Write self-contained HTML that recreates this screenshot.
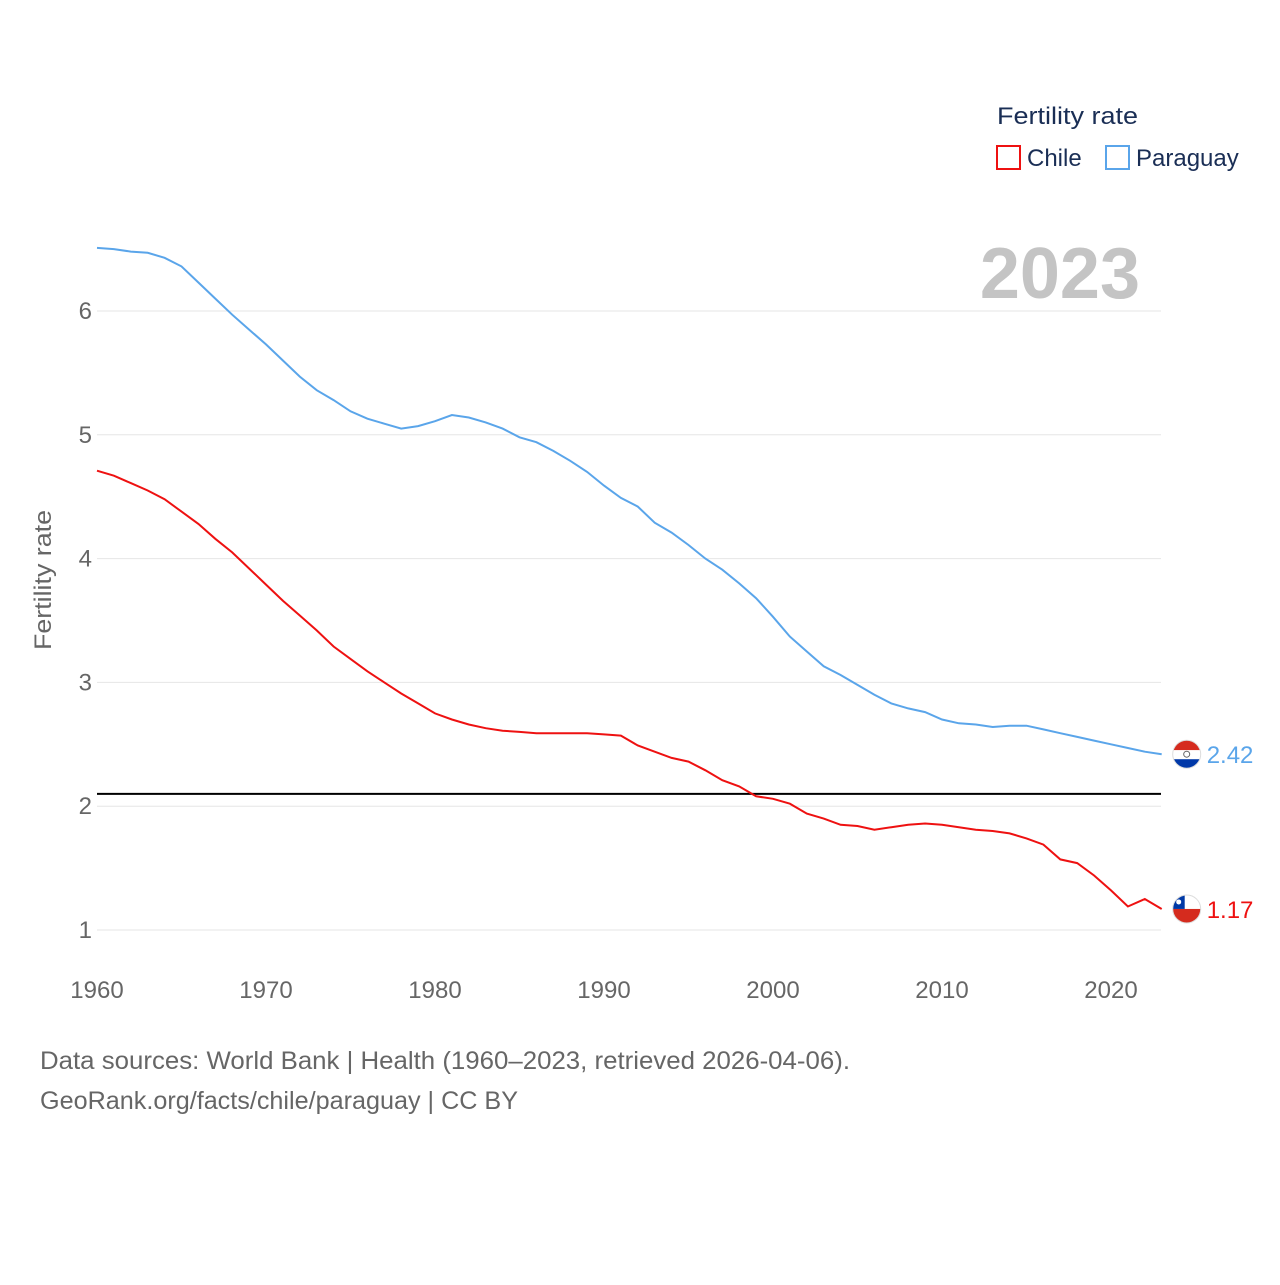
<!DOCTYPE html>
<html><head><meta charset="utf-8"><style>
body{margin:0;background:#fff;font-family:"Liberation Sans",sans-serif}
svg text{font-family:"Liberation Sans",sans-serif}
</style></head><body>
<svg width="1280" height="1280" viewBox="0 0 1280 1280">
<g id="grid"></g>
<g id="yt" font-size="24" fill="#666" text-anchor="end"></g>
<g id="xt" font-size="24" fill="#666" text-anchor="middle"></g>
<text transform="translate(51,580) rotate(-90)" text-anchor="middle" font-size="24" fill="#666" textLength="140" lengthAdjust="spacingAndGlyphs">Fertility rate</text>
<text x="1140" y="298" text-anchor="end" font-size="72" font-weight="bold" fill="#c4c4c4">2023</text>
<g>
<text x="997" y="124" font-size="24" fill="#1a2e55" textLength="141" lengthAdjust="spacingAndGlyphs">Fertility rate</text>
<rect x="997" y="146" width="23" height="23" fill="none" stroke="#ee1111" stroke-width="2"/>
<text x="1027" y="166" font-size="24" fill="#1a2e55">Chile</text>
<rect x="1106" y="146" width="23" height="23" fill="none" stroke="#5aa5ea" stroke-width="2"/>
<text x="1136" y="166" font-size="24" fill="#1a2e55">Paraguay</text>
</g>
<line id="ref" stroke="#000" stroke-width="2"/>
<path id="pry" fill="none" stroke="#5aa5ea" stroke-width="2"/>
<path id="chl" fill="none" stroke="#ee1111" stroke-width="2"/>
<g id="ends"></g>
<text x="40" y="1069" font-size="25" fill="#666" textLength="810" lengthAdjust="spacingAndGlyphs">Data sources: World Bank | Health (1960–2023, retrieved 2026-04-06).</text>
<text x="40" y="1109" font-size="25" fill="#666" textLength="478" lengthAdjust="spacingAndGlyphs">GeoRank.org/facts/chile/paraguay | CC BY</text>
</svg>
<script>
const years=[];for(let y=1960;y<=2023;y++)years.push(y);
const paraguay=[6.51,6.50,6.48,6.47,6.43,6.36,6.23,6.10,5.97,5.85,5.73,5.60,5.47,5.36,5.28,5.19,5.13,5.09,5.05,5.07,5.11,5.16,5.14,5.10,5.05,4.98,4.94,4.87,4.79,4.70,4.59,4.49,4.42,4.29,4.21,4.11,4.00,3.91,3.80,3.68,3.53,3.37,3.25,3.13,3.06,2.98,2.90,2.83,2.79,2.76,2.70,2.67,2.66,2.64,2.65,2.65,2.62,2.59,2.56,2.53,2.50,2.47,2.44,2.42];
const chile=[4.71,4.67,4.61,4.55,4.48,4.38,4.28,4.16,4.05,3.92,3.79,3.66,3.54,3.42,3.29,3.19,3.09,3.00,2.91,2.83,2.75,2.70,2.66,2.63,2.61,2.60,2.59,2.59,2.59,2.59,2.58,2.57,2.49,2.44,2.39,2.36,2.29,2.21,2.16,2.08,2.06,2.02,1.94,1.90,1.85,1.84,1.81,1.83,1.85,1.86,1.85,1.83,1.81,1.80,1.78,1.74,1.69,1.57,1.54,1.44,1.32,1.19,1.25,1.17];
const yTicks=[1,2,3,4,5,6];
const xTicks=[1960,1970,1980,1990,2000,2010,2020];
const replacement=2.1;
const X=v=>97+(v-1960)*(1014/60);
const Y=v=>930-(v-1)*123.8;
const ns="http://www.w3.org/2000/svg";
const mk=(t,a,p)=>{const e=document.createElementNS(ns,t);for(const k in a)e.setAttribute(k,a[k]);p.appendChild(e);return e;};
const grid=document.getElementById('grid'),yt=document.getElementById('yt'),xt=document.getElementById('xt');
yTicks.forEach(v=>{
 const l=mk('line',{x1:97,x2:1161,y1:Y(v),y2:Y(v),stroke:'#e6e6e6','stroke-width':1},grid);
 
 
 const t=mk('text',{x:92,y:Y(v)+8},yt);t.textContent=v;
 
 
});
xTicks.forEach(v=>{
 const t=mk('text',{x:X(v),y:998},xt);t.textContent=v;
 
 
});
const r=document.getElementById('ref');
r.setAttribute('x1',97);r.setAttribute('x2',1161);r.setAttribute('y1',Y(replacement));r.setAttribute('y2',Y(replacement));
const path=arr=>arr.map((v,i)=>(i?'L':'M')+X(years[i]).toFixed(1)+','+Y(v).toFixed(1)).join('');
document.getElementById('pry').setAttribute('d',path(paraguay));
document.getElementById('chl').setAttribute('d',path(chile));
const ends=document.getElementById('ends');
function endMark(arr,col,name,flag){
 const v=arr[arr.length-1],cx=X(years[years.length-1])+25,cy=Y(v);
 const g=mk('g',{},ends);
 
 
 mk('clipPath',{id:'c'+name},g).appendChild(document.createElementNS(ns,'circle'));
 const c=g.querySelector('clipPath circle');c.setAttribute('cx',cx);c.setAttribute('cy',cy);c.setAttribute('r',14);
 const f=mk('g',{'clip-path':'url(#c'+name+')'},g);
 if(flag==='py'){
  mk('rect',{x:cx-14,y:cy-14,width:28,height:10,fill:'#d52b1e'},f);
  mk('rect',{x:cx-14,y:cy-4,width:28,height:9,fill:'#fff'},f);
  mk('rect',{x:cx-14,y:cy+5,width:28,height:10,fill:'#0038a8'},f);
  mk('circle',{cx:cx,cy:cy,r:3,fill:'none',stroke:'#666','stroke-width':1},f);
 }else{
  mk('rect',{x:cx-14,y:cy-14,width:28,height:14,fill:'#fff'},f);
  mk('rect',{x:cx-14,y:cy,width:28,height:14,fill:'#d52b1e'},f);
  mk('rect',{x:cx-14,y:cy-14,width:12,height:14,fill:'#0039a6'},f);
  mk('circle',{cx:cx-8,cy:cy-7,r:2.5,fill:'#fff'},f);
 }
 mk('circle',{cx:cx,cy:cy,r:14,fill:'none',stroke:'#ddd','stroke-width':1},g);
 const t=mk('text',{x:cx+20,y:cy+9,'font-size':24,fill:col},g);t.textContent=v.toFixed(2);
 
 
}
endMark(paraguay,'#5aa5ea','paraguay','py');
endMark(chile,'#ee1111','chile','cl');
</script>
</body></html>
